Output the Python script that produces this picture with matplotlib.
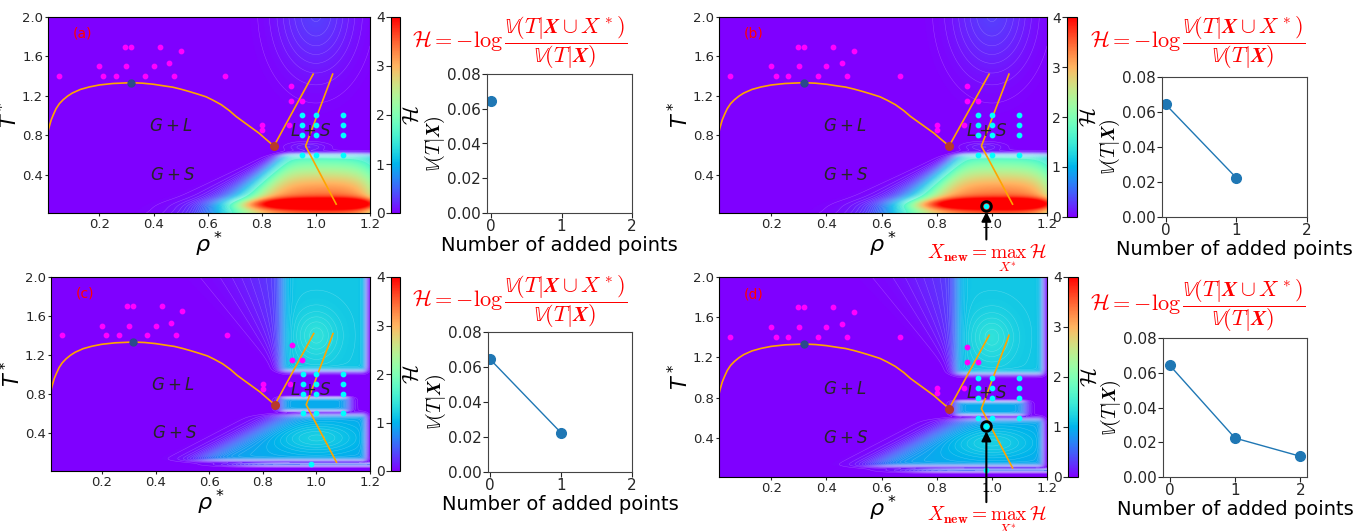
import matplotlib.pyplot as plt
import numpy as np

plt.rcParams['font.family'] = 'DejaVu Sans'
plt.rcParams['text.color'] = '#262626'
plt.rcParams['xtick.color'] = '#262626'
plt.rcParams['ytick.color'] = '#262626'

# training data (rho*, T*)
fluid_rho = [0.05, 0.2, 0.215, 0.262, 0.295, 0.317, 0.3, 0.369, 0.4, 0.424, 0.458, 0.476, 0.5, 0.665,
             0.8, 0.8, 0.9, 0.908, 0.908, 0.948]
fluid_T = [1.4, 1.5, 1.4, 1.4, 1.7, 1.7, 1.5, 1.4, 1.5, 1.7, 1.53, 1.4, 1.65, 1.4,
           0.9, 0.85, 0.9, 1.3, 1.15, 1.15]
solid_rho = [0.95, 1.0, 1.1, 0.95, 1.0, 1.1, 0.95, 1.0, 1.1, 0.95, 1.0, 1.1]
solid_T = [1.0, 1.0, 1.0, 0.9, 0.9, 0.9, 0.8, 0.8, 0.8, 0.6, 0.6, 0.6]
added_rho = [0.98, 0.98]
added_T = [0.08, 0.52]

# phase boundaries
binodal_rho = [0.004, 0.008, 0.012, 0.017, 0.022, 0.03, 0.04, 0.052, 0.066, 0.083, 0.10, 0.13, 0.163,
               0.2, 0.25, 0.317, 0.36, 0.40, 0.44, 0.47, 0.50, 0.53, 0.56, 0.594, 0.62, 0.65, 0.68,
               0.705, 0.73, 0.75, 0.77, 0.79, 0.815, 0.845]
binodal_T = [0.72, 0.80, 0.86, 0.91, 0.957, 1.01, 1.07, 1.12, 1.16, 1.198, 1.228, 1.265, 1.29,
             1.31, 1.325, 1.333, 1.328, 1.317, 1.30, 1.288, 1.268, 1.245, 1.22, 1.19, 1.155, 1.11, 1.05,
             0.99, 0.94, 0.90, 0.86, 0.82, 0.76, 0.69]
freezing_rho = [0.845, 0.99]
freezing_T = [0.69, 1.42]
melting_rho = [1.062, 0.962, 1.075]
melting_T = [1.42, 0.69, 0.10]
critical = (0.317, 1.333)
triple = (0.845, 0.69)

# variance vs number of added points
n_added = [0, 1, 2]
variance = [0.0644, 0.0224, 0.0119]

# acquisition field grid
rho = np.linspace(0.01, 1.2, 400)
temp = np.linspace(0.01, 2.0, 400)
R, TT = np.meshgrid(rho, temp)


def sig(z):
    return 1.0 / (1.0 + np.exp(-z))


# H before any point is added: strong bump at low T, high rho
peak = 3.5 * np.exp(-((TT - 0.1) / 0.55) ** 2) + 1.5 * np.exp(-((TT - 0.1) / 0.06) ** 2)
H_first = (peak * sig((R - 0.7 - 0.3 * TT) / (0.07 - 0.09 * np.clip(TT, 0, 0.6)))
           * sig((0.6 - TT) / 0.012) * sig((1.25 - R) / 0.04)
           + 0.32 * np.exp(-((R - 1.0) / 0.14) ** 2 - ((TT - 2.05) / 0.6) ** 2)
           + 0.15 * np.exp(-((R - 0.97) / 0.07) ** 2 - ((TT - 0.68) / 0.045) ** 2))

# H after the first point is added
dT = np.clip(TT - 1.04, 0, None)
sharp = sig((R - 0.875) / 0.012)
broad = 0.35 * sig((R - 0.875 + 0.12 * dT) / (0.01 + 0.07 * dT))
upper = 1.15 * (sharp + broad * (1 - sharp)) * sig((1.185 - R) / 0.006) * sig((TT - 1.04) / 0.012)
upper *= 1 + 0.2 * np.exp(-((R - 1.0) / 0.08) ** 2 - ((TT - 1.4) / 0.25) ** 2)
middle = 0.95 * sig((R - 0.87) / 0.01) * sig((1.12 - R) / 0.01) * np.exp(-((TT - 0.695) / 0.07) ** 6)
lower = (1.1 * sig((R - 0.48 - 0.7 * TT) / 0.04) * sig((1.185 - R) / 0.006)
         * sig((0.585 - TT) / 0.012) * sig((TT - 0.12) / 0.01))
lower *= 0.85 + 0.25 * np.exp(-((R - 1.0) / 0.15) ** 2 - ((TT - 0.35) / 0.15) ** 2)
strip = 0.55 * np.exp(-((TT - 0.075) / 0.018) ** 2) * sig((R - 0.72) / 0.05)
H_second = upper + middle + lower + strip

W, H = 1371, 531


def box(x0, y0, x1, y1):
    return [x0 / W, 1 - y1 / H, (x1 - x0) / W, (y1 - y0) / H]


panels = [
    dict(tag='(a)', main=(48, 17, 370, 213), cbar=(391, 17, 400, 213), small=(487, 74, 632, 213),
         formula=(520, 43), field=H_first, n_pts=1, n_added=0, new=None, sxlim=(-0.06, 2.0), text_off=0),
    dict(tag='(b)', main=(719, 17, 1047, 213), cbar=(1067, 17, 1077, 217), small=(1162, 77, 1307, 217),
         formula=(1198, 43), field=H_first, n_pts=2, n_added=0, new=0, sxlim=(-0.05, 2.0), text_off=-26),
    dict(tag='(c)', main=(51, 277, 370, 471), cbar=(391, 277, 400, 471), small=(488, 332, 632, 472),
         formula=(520, 302), field=H_second, n_pts=2, n_added=1, new=None, sxlim=(-0.03, 2.0), text_off=0),
    dict(tag='(d)', main=(719, 277, 1047, 477), cbar=(1068, 277, 1078, 477), small=(1163, 338, 1307, 477),
         formula=(1198, 306), field=H_second, n_pts=3, n_added=1, new=1, sxlim=(-0.1, 2.1), text_off=-57),
]

formula = r'$\mathcal{H} = -\log\dfrac{\mathbb{V}(T|\mathbfit{X}\cup X^*)}{\mathbb{V}(T|\mathbfit{X})}$'

fig = plt.figure(figsize=(13.71, 5.31), dpi=100)

for p in panels:
    x0, y0, x1, y1 = p['main']
    ax = fig.add_axes(box(x0, y0, x1, y1))
    im = ax.imshow(p['field'], extent=(0.01, 1.2, 0.01, 2.0), origin='lower', aspect='auto',
                   cmap='rainbow', vmin=0, vmax=4, interpolation='bilinear')
    ax.contour(R, TT, p['field'], levels=np.linspace(0.03, 1.6, 40), colors='white',
               linewidths=0.35, alpha=0.25)
    ax.plot(binodal_rho, binodal_T, color='orange', lw=1.2)
    ax.plot(freezing_rho, freezing_T, color='orange', lw=1.2)
    ax.plot(melting_rho, melting_T, color='orange', lw=1.2)
    ax.scatter(fluid_rho, fluid_T, s=10, color='#ff00ff', zorder=3)
    ax.scatter(solid_rho, solid_T, s=10, color='#00ffff', zorder=3)
    if p['n_added']:
        ax.scatter(added_rho[:p['n_added']], added_T[:p['n_added']], s=10, color='#00ffff', zorder=3)
    ax.scatter(*critical, s=25, color='#2b4a8c', zorder=4)
    ax.scatter(*triple, s=30, color='#b8392b', zorder=4)
    ax.text(0.465, 0.89, '$G + L$', fontsize=12, ha='center', va='center')
    ax.text(0.47, 0.40, '$G + S$', fontsize=12, ha='center', va='center')
    ax.text(0.98, 0.845, '$L + S$', fontsize=12, ha='center', va='center')
    ax.text(0.136, 1.83, p['tag'], color='red', fontsize=10, ha='center', va='center')
    if p['new'] is not None:
        k = p['new']
        ax.scatter(added_rho[k], added_T[k], s=10, color='#00ffff', zorder=5)
        ax.plot(added_rho[k], added_T[k], 'o', ms=7, mfc='none', mec='black', mew=2, zorder=6)
        ax.annotate(r'$X_{\mathbf{new}} = \max_{X^*}\,\mathcal{H}$', xy=(added_rho[k], added_T[k]),
                    xytext=(0, p['text_off']), textcoords='offset points', ha='center', va='top',
                    color='red', fontsize=14, math_fontfamily='cm', annotation_clip=False,
                    arrowprops=dict(arrowstyle='-|>', color='black', lw=1.5, shrinkA=0, shrinkB=4))
    ax.set_xlim(0.01, 1.2)
    ax.set_ylim(0.01, 2.0)
    ax.set_xticks([0.2, 0.4, 0.6, 0.8, 1.0, 1.2])
    ax.set_yticks([0.4, 0.8, 1.2, 1.6, 2.0])
    ax.tick_params(labelsize=9.5, length=2.5, pad=1)
    ax.set_xlabel(r'$\rho^*$', fontsize=16, labelpad=-1)
    ax.set_ylabel(r'$T^*$', fontsize=15)
    ax.yaxis.set_label_coords(-27 / (x1 - x0), 0.5)

    cax = fig.add_axes(box(*p['cbar']))
    cb = fig.colorbar(im, cax=cax)
    cb.set_ticks([0, 1, 2, 3, 4])
    cax.yaxis.set_ticks_position('left')
    cax.yaxis.set_label_position('right')
    cax.tick_params(labelsize=10, pad=1)
    cb.set_label(r'$\mathcal{H}$', fontsize=16, math_fontfamily='cm', labelpad=2)

    fx, fy = p['formula']
    fig.text(fx / W, 1 - fy / H, formula, color='red', fontsize=16, math_fontfamily='cm',
             ha='center', va='center')

    sax = fig.add_axes(box(*p['small']))
    n = p['n_pts']
    sax.plot(n_added[:n], variance[:n], 'o-', color='#1f77b4', ms=7, lw=1)
    sax.set_xlim(*p['sxlim'])
    sax.set_ylim(0, 0.08)
    sax.set_xticks([0, 1, 2])
    sax.set_yticks([0, 0.02, 0.04, 0.06, 0.08])
    sax.tick_params(labelsize=11, pad=1)
    for s in sax.spines.values():
        s.set_color('#444444')
    sax.set_xlabel('Number of added points', fontsize=14, labelpad=1)
    sax.set_ylabel(r'$\mathbb{V}(T|\mathbfit{X})$', fontsize=14.5, math_fontfamily='cm', labelpad=0)

fig.savefig('out.png', dpi=100)
